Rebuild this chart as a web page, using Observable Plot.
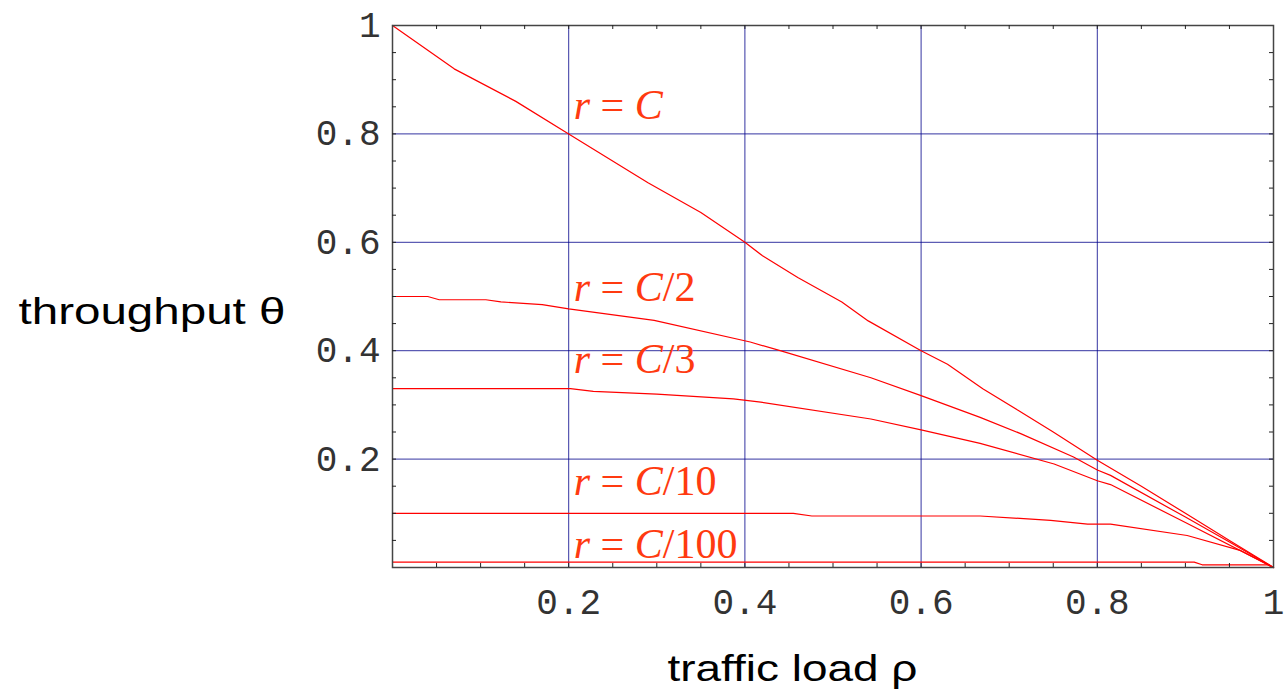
<!DOCTYPE html>
<html><head><meta charset="utf-8">
<script src="https://cdn.jsdelivr.net/npm/d3@7"></script>
<script src="https://cdn.jsdelivr.net/npm/@observablehq/plot@0.6"></script>
<style>body{margin:0;background:#fff;}</style>
</head><body><div id="chart"></div>
<script>
// ---- data ----
const rhoC    = [0,0.07,0.14,0.2,0.29,0.35,0.4,0.42,0.46,0.51,0.54,0.6,0.63,0.67,0.71,0.75,0.8,0.85,0.9,0.95,1];
const thetaC  = [1,0.92,0.86,0.8,0.71,0.655,0.6,0.575,0.535,0.49,0.455,0.4,0.375,0.33,0.29,0.25,0.198,0.15,0.1,0.05,0];
const rhoC2   = [0,0.04,0.053,0.106,0.123,0.17,0.2,0.297,0.406,0.44,0.543,0.6,0.667,0.713,0.773,0.8,0.815,0.9,0.95,1];
const thetaC2 = [0.5,0.5,0.494,0.494,0.49,0.485,0.477,0.456,0.416,0.4,0.35,0.317,0.277,0.247,0.204,0.18,0.17,0.093,0.047,0];
const rhoC3   = [0,0.202,0.228,0.3,0.387,0.418,0.543,0.6,0.667,0.751,0.8,0.815,0.9,1];
const thetaC3 = [0.33,0.33,0.325,0.32,0.311,0.305,0.274,0.254,0.229,0.191,0.16,0.153,0.083,0];
const rhoC10   = [0,0.455,0.476,0.667,0.747,0.789,0.815,0.902,0.963,1];
const thetaC10 = [0.1,0.1,0.095,0.095,0.087,0.08,0.08,0.059,0.031,0];
const rhoC100   = [0,0.91,0.919,0.993,1];
const thetaC100 = [0.01,0.01,0.005,0.005,0];

const seriesNames = ["r = C","r = C/2","r = C/3","r = C/10","r = C/100"];
const labelRho   = [0.2,0.2,0.2,0.2,0.2];
const labelTheta = [0.827,0.491,0.358,0.133,0.018];

const majorTicks = [0.2,0.4,0.6,0.8,1];
const gridTicks  = [0.2,0.4,0.6,0.8];
const minorTicks = [0.05,0.1,0.15,0.2,0.25,0.3,0.35,0.4,0.45,0.5,0.55,0.6,0.65,0.7,0.75,0.8,0.85,0.9,0.95];
const tickLabels = ["0.2","0.4","0.6","0.8","1"];
const xTitle = "traffic load ρ";
const yTitle = "throughput θ";

// ---- build table ----
const rhos = [rhoC, rhoC2, rhoC3, rhoC10, rhoC100];
const thetas = [thetaC, thetaC2, thetaC3, thetaC10, thetaC100];
const rows = seriesNames.flatMap((s, i) => rhos[i].map((r, j) => ({series: s, rho: r, theta: thetas[i][j]})));
const labels = seriesNames.map((s, i) => ({text: s, rho: labelRho[i], theta: labelTheta[i]}));

const W = 1287, H = 692, mL = 392, mR = 14, mT = 25, mB = 125;
const plotH = H - mT - mB, plotW = W - mL - mR;
const tl = 4;
const fmt = d => tickLabels[majorTicks.indexOf(d)];

const chart = Plot.plot({
  width: W, height: H,
  marginLeft: mL, marginRight: mR, marginTop: mT, marginBottom: mB,
  style: {background: "#fff", overflow: "visible"},
  x: {domain: [0, 1]},
  y: {domain: [0, 1]},
  marks: [
    Plot.gridX(gridTicks, {stroke: "#00008a", strokeOpacity: 0.8, strokeWidth: 1}),
    Plot.gridY(gridTicks, {stroke: "#00008a", strokeOpacity: 0.8, strokeWidth: 1}),
    Plot.line(rows, {x: "rho", y: "theta", z: "series", stroke: "#ff0000", strokeWidth: 1.2}),
    Plot.text(labels, {x: "rho", y: "theta", text: "text", dx: 5, textAnchor: "start", lineAnchor: "bottom",
      fill: "#ff3a10", fontSize: 42, fontFamily: "Liberation Serif"}),
    Plot.frame({stroke: "#444", strokeWidth: 1.5}),
    Plot.tickX(minorTicks, {x: d => d, insetTop: plotH - tl, stroke: "#222"}),
    Plot.tickX(minorTicks, {x: d => d, insetBottom: plotH - tl, stroke: "#222"}),
    Plot.tickY(minorTicks, {y: d => d, insetRight: plotW - tl, stroke: "#222"}),
    Plot.tickY(minorTicks, {y: d => d, insetLeft: plotW - tl, stroke: "#222"}),
    Plot.axisX(majorTicks, {tickSize: 0, tickPadding: 21, tickFormat: fmt, fontSize: 36, fontFamily: "Liberation Mono", fill: "#333", label: null}),
    Plot.axisY(majorTicks, {tickSize: 0, tickPadding: 12, tickFormat: fmt, fontSize: 36, fontFamily: "Liberation Mono", fill: "#333", label: null}),
    Plot.text([yTitle], {frameAnchor: "left", dx: -(mL - 18), dy: 16, textAnchor: "start",
      fontSize: 37, fontFamily: "Liberation Sans", fill: "#000"}),
    Plot.text([xTitle], {frameAnchor: "bottom", dx: 667 - (mL + plotW / 2), dy: 113, textAnchor: "start", lineAnchor: "bottom",
      fontSize: 37, fontFamily: "Liberation Sans", fill: "#000"})
  ]
});
document.getElementById("chart").appendChild(chart);

const NS = "http://www.w3.org/2000/svg";
chart.querySelectorAll("text").forEach(t => {
  const s = t.textContent;
  // widen the axis titles to the reference's stretched lettering
  if (s === yTitle) { t.setAttribute("textLength", 267); t.setAttribute("lengthAdjust", "spacingAndGlyphs"); }
  if (s === xTitle) { t.setAttribute("textLength", 250); t.setAttribute("lengthAdjust", "spacingAndGlyphs"); }
  // traditional math form: variables italic, operators and numbers upright
  if (seriesNames.includes(s)) {
    const m = s.match(/^(r)( = )(C)(.*)$/);
    const dy = t.firstChild && t.firstChild.getAttribute ? t.firstChild.getAttribute("dy") : null;
    while (t.firstChild) t.removeChild(t.firstChild);
    [[m[1], true], [m[2], false], [m[3], true], [m[4], false]].forEach(([part, it], k) => {
      if (!part) return;
      const sp = document.createElementNS(NS, "tspan");
      sp.textContent = part;
      if (it) sp.setAttribute("font-style", "italic");
      if (k === 0 && dy) sp.setAttribute("dy", dy);
      t.appendChild(sp);
    });
  }
});
</script>
</body></html>
